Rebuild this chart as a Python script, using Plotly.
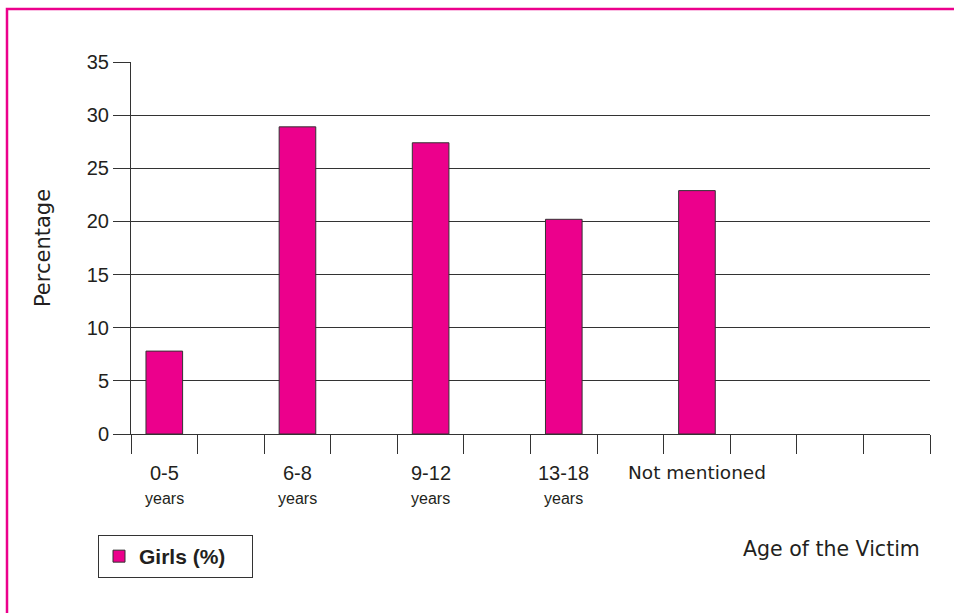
import plotly.graph_objects as go

# ---- data ----
categories = ["0-5", "6-8", "9-12", "13-18", "Not mentioned"]
sublabels = ["years", "years", "years", "years", ""]
girls_pct = [7.8, 28.9, 27.4, 20.2, 22.9]
slot_index = [0, 2, 4, 6, 8]          # each category occupies every other slot of 12
n_slots = 12
y_ticks = [0, 5, 10, 15, 20, 25, 30, 35]

W, H = 954, 613
L, R, T, B = 131, 24, 62, 179
pw, ph = W - L - R, H - T - B

def px_x(px):
    return (px - L) / pw

def px_y(py):
    return (H - B - py) / ph

MAG = "#EC008C"
INK = "#231F20"
GRID = "#333333"

fig = go.Figure()
fig.add_trace(go.Bar(
    x=slot_index, y=girls_pct, width=0.55, name="Girls (%)",
    marker=dict(color=MAG, line=dict(color="#333333", width=1)),
))

fig.update_layout(
    width=W, height=H,
    margin=dict(l=L, r=R, t=T, b=B, pad=0),
    paper_bgcolor="white", plot_bgcolor="white",
    showlegend=True,
    legend=dict(
        x=px_x(98), y=px_y(535), xanchor="left", yanchor="top",
        bordercolor="#333333", borderwidth=1, bgcolor="white",
        font=dict(family="Liberation Sans, Arial", size=21, color=INK, weight="bold"),
        orientation="h", entrywidth=108, entrywidthmode="pixels",
    ),
    xaxis=dict(
        range=[-0.5, n_slots - 0.5],
        tickvals=[i - 0.5 for i in range(n_slots + 1)],
        showticklabels=False, ticks="outside", ticklen=19, tickcolor=GRID, tickwidth=1,
        showgrid=False, zeroline=False, showline=True, linecolor=GRID, linewidth=1,
    ),
    yaxis=dict(
        range=[0, 35], tickvals=y_ticks,
        ticks="outside", ticklen=17, tickcolor=GRID, tickwidth=1,
        showgrid=True, gridcolor=GRID, gridwidth=1, zeroline=False,
        showline=True, linecolor=GRID, linewidth=1,
        tickfont=dict(family="Liberation Sans, Arial", size=20, color=INK),
        title=dict(text="Percentage", standoff=30,
                   font=dict(family="DejaVu Sans", size=21, color=INK)),
    ),
)

annotations = []
for xi, cat, sub in zip(slot_index, categories, sublabels):
    if sub:
        annotations.append(dict(x=xi, y=px_y(473), xref="x", yref="paper", text=cat,
                                showarrow=False, xanchor="center", yanchor="middle",
                                font=dict(family="Liberation Sans, Arial", size=20, color=INK)))
        annotations.append(dict(x=xi, y=px_y(498), xref="x", yref="paper", text=sub,
                                showarrow=False, xanchor="center", yanchor="middle",
                                font=dict(family="Liberation Sans, Arial", size=16, color=INK)))
    else:
        annotations.append(dict(x=xi, y=px_y(473), xref="x", yref="paper", text=cat,
                                showarrow=False, xanchor="center", yanchor="middle",
                                font=dict(family="DejaVu Sans", size=18.5, color=INK)))
annotations.append(dict(x=px_x(831), y=px_y(549), xref="paper", yref="paper",
                        text="Age of the Victim", showarrow=False,
                        xanchor="center", yanchor="middle",
                        font=dict(family="DejaVu Sans", size=20.5, color=INK)))
fig.update_layout(annotations=annotations)

# magenta frame (top and left edges visible)
fig.add_shape(type="rect", xref="paper", yref="paper",
              x0=px_x(7), x1=px_x(970), y0=px_y(640), y1=px_y(9),
              line=dict(color=MAG, width=2.5), fillcolor="rgba(0,0,0,0)", layer="above")

fig.write_html("out.html")
